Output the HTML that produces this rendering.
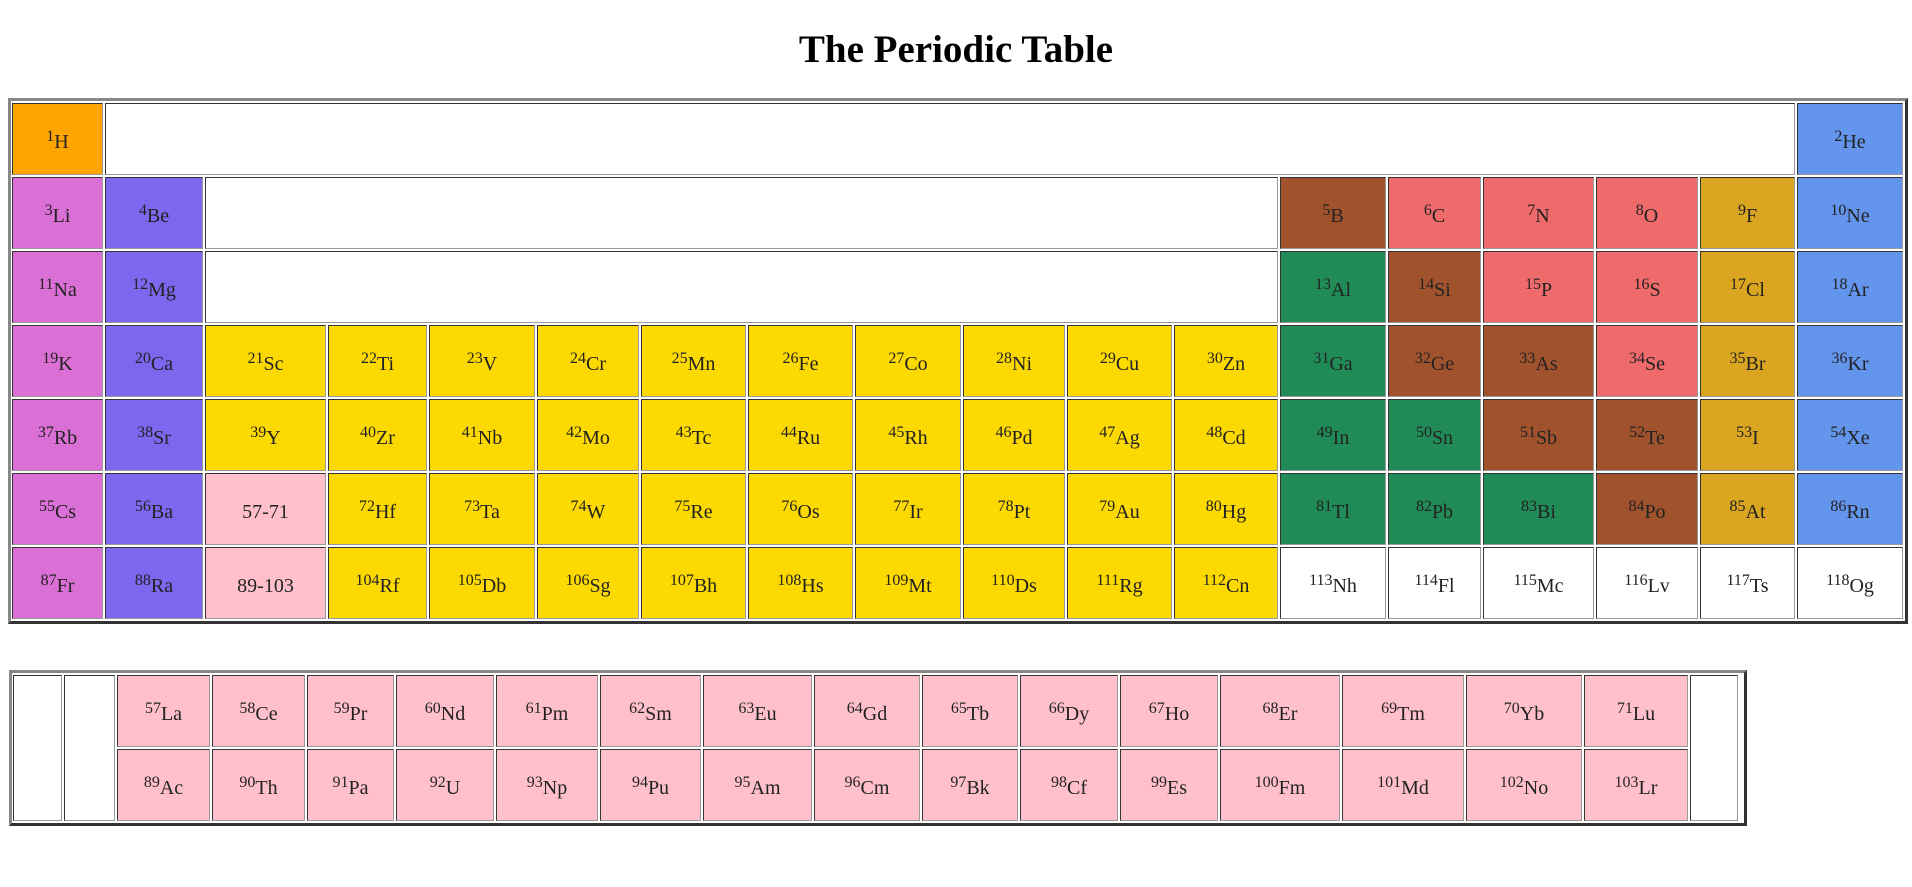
<!DOCTYPE html>
<html><head><meta charset="utf-8"><style>
body{margin:0;width:1912px;height:887px;background:#fff;position:relative;overflow:hidden;font-family:"Liberation Serif",serif;color:#222}
h1{position:absolute;left:0;top:27px;width:1912px;margin:0;text-align:center;font-size:39px;font-weight:bold;color:#000}
.tbl{position:absolute;border:3px solid;border-color:#888 #333 #333 #888;box-sizing:border-box}
.c{position:absolute;box-sizing:border-box;border:1px solid;border-color:#333 #999 #999 #333;display:flex;align-items:center;justify-content:center;font-size:20px;padding-top:6px}
.c sup{font-size:16px;position:relative;top:-5px;vertical-align:top;line-height:1}
</style></head><body>
<h1>The Periodic Table</h1>
<div class="tbl" style="left:8px;top:98px;width:1900px;height:526px"></div>
<div class="tbl" style="left:9px;top:670px;width:1738px;height:156px"></div>
<div id="root"></div>
<script>
const colEdges=[12,105,205,328,429,537,641,748,855,963,1067,1174,1280,1388,1483,1596,1700,1797,1905];
const lowEdges=[13,64,117,212,307,396,496,600,703,814,922,1020,1120,1220,1342,1466,1584,1690,1740];
const C={H:'#FFA500',A:'#DA70D6',E:'#7B68EE',T:'#FCD900',L:'#FFC0CB',N:'#EF6A6A',X:'#DAA520',G:'#6495ED',M:'#A0522D',P:'#218B57',U:'#FFFFFF'};
const mainCells=[
[0,0,1,1,'H','H'],[0,1,16,'','','U'],[0,17,1,2,'He','G'],
[1,0,1,3,'Li','A'],[1,1,1,4,'Be','E'],[1,2,10,'','','U'],[1,12,1,5,'B','M'],[1,13,1,6,'C','N'],[1,14,1,7,'N','N'],[1,15,1,8,'O','N'],[1,16,1,9,'F','X'],[1,17,1,10,'Ne','G'],
[2,0,1,11,'Na','A'],[2,1,1,12,'Mg','E'],[2,2,10,'','','U'],[2,12,1,13,'Al','P'],[2,13,1,14,'Si','M'],[2,14,1,15,'P','N'],[2,15,1,16,'S','N'],[2,16,1,17,'Cl','X'],[2,17,1,18,'Ar','G']
];
const r4=['K','Ca','Sc','Ti','V','Cr','Mn','Fe','Co','Ni','Cu','Zn','Ga','Ge','As','Se','Br','Kr'];
const r5=['Rb','Sr','Y','Zr','Nb','Mo','Tc','Ru','Rh','Pd','Ag','Cd','In','Sn','Sb','Te','I','Xe'];
const r6=['Cs','Ba','*','Hf','Ta','W','Re','Os','Ir','Pt','Au','Hg','Tl','Pb','Bi','Po','At','Rn'];
const r7=['Fr','Ra','*','Rf','Db','Sg','Bh','Hs','Mt','Ds','Rg','Cn','Nh','Fl','Mc','Lv','Ts','Og'];
const k4='AETTTTTTTTTTPMMNXG',k5='AETTTTTTTTTTPPMMXG',k6='AELTTTTTTTTTPPPMXG',k7='AELTTTTTTTTTUUUUUU';
const starts=[19,37,55,87];
const lan=['La','Ce','Pr','Nd','Pm','Sm','Eu','Gd','Tb','Dy','Ho','Er','Tm','Yb','Lu'];
const act=['Ac','Th','Pa','U','Np','Pu','Am','Cm','Bk','Cf','Es','Fm','Md','No','Lr'];
[r4,r5,r6,r7].forEach((row,i)=>{const ks=[k4,k5,k6,k7][i];let n=starts[i];
 row.forEach((s,c)=>{ if(s==='*'){mainCells.push([3+i,c,1,'',i==2?'57-71':'89-103','L']);n+=15;}
  else {mainCells.push([3+i,c,1,n,s,ks[c]]);n++;} });});
const root=document.getElementById('root');
function mk(x,y,w,h,num,sym,cls){
 const d=document.createElement('div');d.className='c';
 d.style.cssText=`left:${x}px;top:${y}px;width:${w}px;height:${h}px;background:${C[cls]}`;
 if(sym){d.innerHTML=num!==''?`<sup>${num}</sup>${sym}`:sym;}
 
 
 root.appendChild(d);
}
mainCells.forEach(([r,c,sp,num,sym,cls])=>{
 const x=colEdges[c],w=colEdges[c+sp]-x-2;mk(x,103+r*74,w,72,num,sym,cls);});
mk(lowEdges[0],675,lowEdges[1]-lowEdges[0]-2,146,'','','U');
mk(lowEdges[1],675,lowEdges[2]-lowEdges[1]-2,146,'','','U');
mk(lowEdges[17],675,lowEdges[18]-lowEdges[17]-2,146,'','','U');
lan.forEach((s,i)=>mk(lowEdges[i+2],675,lowEdges[i+3]-lowEdges[i+2]-2,72,57+i,s,'L'));
act.forEach((s,i)=>mk(lowEdges[i+2],749,lowEdges[i+3]-lowEdges[i+2]-2,72,89+i,s,'L'));
</script>
</body></html>
